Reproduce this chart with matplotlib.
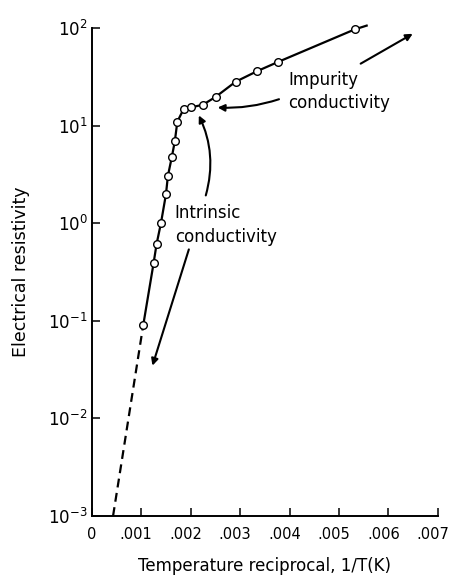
import matplotlib
matplotlib.use("Agg")
import matplotlib.pyplot as plt
import matplotlib.transforms as mtransforms
import numpy as np

plt.rcParams['mathtext.fontset'] = 'stix'

# measured points, 1/T and resistivity
recip_T = [0.00104, 0.00125, 0.00131, 0.00140, 0.00150, 0.00154, 0.00162,
           0.00168, 0.00173, 0.00186, 0.00201, 0.00225, 0.00251, 0.00291,
           0.00335, 0.00376, 0.00532]
resist = [0.09, 0.39, 0.61, 1.01, 1.98, 3.07, 4.8, 6.95, 10.97, 14.9, 15.4,
          16.4, 19.8, 28.2, 36.3, 44.8, 97.0]

# line continued past last point, and dashed extrapolation downwards
line_end = (0.00556, 106.0)
extrap_x = [0.00043, 0.00104]
extrap_y = [0.001, 0.09]

xticks = [0, 0.001, 0.002, 0.003, 0.004, 0.005, 0.006, 0.007]
xticklabels = ['0', '.001', '.002', '.003', '.004', '.005', '.006', '.007']
yticks = [1e-3, 1e-2, 1e-1, 1e0, 1e1, 1e2]

fig = plt.figure(figsize=(4.5, 5.85), dpi=100)
ax = fig.add_axes([0.204, 0.118, 0.769, 0.834])

ax.plot(recip_T + [line_end[0]], resist + [line_end[1]], color='black', lw=1.6,
        clip_on=False, zorder=2)
ax.plot(extrap_x, extrap_y, color='black', lw=1.6, ls=(0, (4, 2.5)), zorder=2)
ax.plot(recip_T, resist, 'o', ms=5.5, mfc='white', mec='black', mew=1.0,
        zorder=3, clip_on=False)

ax.set_yscale('log')
ax.set_xlim(0, 0.007)
ax.set_ylim(1e-3, 1e2)
ax.set_xticks(xticks)
ax.set_xticklabels(xticklabels)
ax.set_yticks(yticks)
ax.minorticks_off()

for s in ['top', 'right']:
    ax.spines[s].set_visible(False)
for s in ['left', 'bottom']:
    ax.spines[s].set_linewidth(1.4)

ax.tick_params(axis='both', direction='in', length=6, width=1.1)
ax.tick_params(axis='x', pad=8, labelsize=10.5)
ax.tick_params(axis='y', pad=3, labelsize=12)

# dotted x tick labels sit a little left of their ticks
shift = mtransforms.ScaledTranslation(-5 / 100, 0, fig.dpi_scale_trans)
for lab in ax.get_xticklabels():
    if lab.get_text().startswith('.'):
        lab.set_transform(lab.get_transform() + shift)

ax.set_xlabel('Temperature reciprocal, 1/T(K)', fontsize=12, labelpad=11)
ax.set_ylabel('Electrical resistivity', fontsize=12.5, labelpad=13)

# annotations
arrow = dict(arrowstyle='-|>', color='black', lw=1.5, mutation_scale=10)
ax.annotate('', xy=(0.00654, 90.3), xytext=(0.00539, 41.8),
            arrowprops=arrow, annotation_clip=False)
ax.annotate('', xy=(0.00249, 15.4), xytext=(0.00384, 19.05),
            arrowprops=dict(arrow, connectionstyle='arc3,rad=-0.1'))
ax.annotate('', xy=(0.00214, 13.5), xytext=(0.00229, 1.81),
            arrowprops=dict(arrow, connectionstyle='arc3,rad=0.2'))
ax.annotate('', xy=(0.00121, 0.0326), xytext=(0.00198, 0.574),
            arrowprops=arrow)

ax.text(0.00397, 29.3, 'Impurity', fontsize=12, va='center', ha='left')
ax.text(0.00397, 17.1, 'conductivity', fontsize=12, va='center', ha='left')
ax.text(0.00168, 1.27, 'Intrinsic', fontsize=12, va='center', ha='left')
ax.text(0.00168, 0.722, 'conductivity', fontsize=12, va='center', ha='left')

fig.savefig('out.png', dpi=100)
